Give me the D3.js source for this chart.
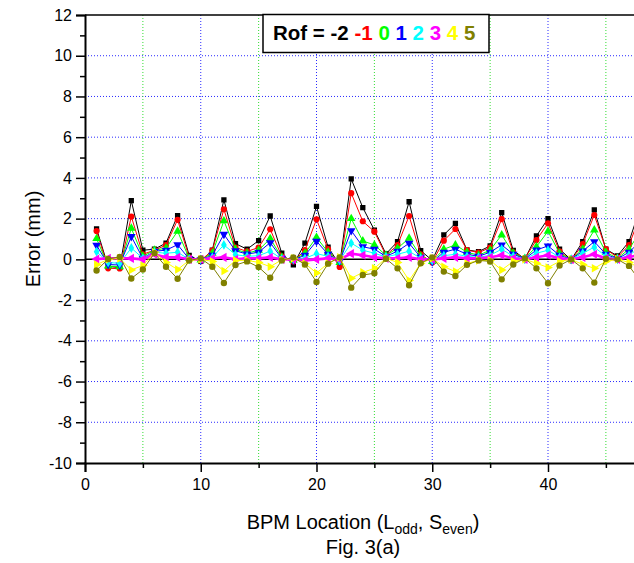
<!DOCTYPE html>
<html><head><meta charset="utf-8">
<script src="https://cdn.jsdelivr.net/npm/d3@7"></script>
<style>body{margin:0;background:#fff}svg{display:block}text{font-family:Arial,"Liberation Sans",sans-serif}</style>
</head><body>
<svg id="c" width="634" height="563"></svg>
<script>
const xs = d3.range(1, 49);
const rofLabels = ["-2","-1","0","1","2","3","4","5"];
const colors = ["#000000","#ff0000","#00ff00","#0000ff","#00ffff","#ff00ff","#ffff00","#808000"];
const sRofM2 = [1.5,-0.35,-0.4,2.88,0.45,0.5,0.8,2.15,0.2,-0.1,0.45,2.92,0.77,0.5,0.92,2.13,0.3,-0.27,0.8,2.6,0.6,-0.27,3.95,2.54,1.44,0.27,0.87,2.83,0.43,-0.05,1.2,1.77,0.46,0.38,0.66,2.3,0.44,0.02,1.15,2.0,0.5,-0.02,0.87,2.43,0.5,0.17,0.87,2.6];
const sRofM1 = [1.39,-0.44,-0.45,2.1,0.25,0.45,0.7,1.94,0.1,-0.05,0.43,2.46,0.58,0.39,0.58,1.48,0.15,-0.1,0.45,1.97,0.5,-0.37,3.25,1.87,1.36,0.2,0.7,2.13,0.25,-0.15,0.92,1.49,0.46,0.33,0.58,1.98,0.35,0.05,0.95,1.77,0.4,-0.05,0.75,2.18,0.5,0.1,0.7,2.2];
const sRof0 = [1.02,-0.33,-0.36,1.53,0.15,0.45,0.55,1.38,0.05,-0.03,0.3,1.89,0.5,0.3,0.45,1.02,0.1,-0.05,0.3,1.08,0.35,-0.15,2.0,0.9,0.71,0.2,0.54,1.04,0.15,-0.1,0.5,0.71,0.35,0.2,0.45,1.2,0.3,0.05,0.62,1.38,0.3,0.0,0.5,1.44,0.35,0.05,0.5,1.4];
const sRof1 = [0.69,-0.25,-0.28,1.12,0.05,0.4,0.45,0.72,0.02,-0.02,0.2,1.23,0.42,0.26,0.35,0.82,0.05,-0.03,0.2,0.89,0.25,-0.1,1.41,0.62,0.5,0.15,0.4,0.79,0.1,-0.12,0.35,0.5,0.25,0.15,0.35,0.71,0.25,0.03,0.46,0.66,0.2,0.0,0.41,0.87,0.25,0.03,0.35,0.9];
const sRof2 = [0.38,-0.15,-0.2,0.56,0.05,0.35,0.3,0.35,0.0,0.0,0.1,0.71,0.23,0.15,0.18,0.4,0.02,0.0,0.05,0.28,0.15,-0.05,0.8,0.45,0.3,0.12,0.25,0.4,0.05,-0.05,0.18,0.25,0.15,0.1,0.2,0.5,0.15,0.02,0.3,0.45,0.1,0.0,0.3,0.6,0.15,0.02,0.2,0.6];
const sRof3 = [0.02,0.05,0.05,0.05,0.0,0.25,0.1,0.1,0.0,0.0,0.05,0.1,0.0,0.05,0.05,0.1,0.0,0.0,-0.05,0.0,0.05,0.0,0.28,0.2,0.1,0.05,0.05,0.1,0.0,0.0,0.05,0.1,0.05,0.05,0.1,0.2,0.05,0.0,0.1,0.2,0.05,0.0,0.1,0.25,0.05,0.0,0.1,0.25];
const sRof4 = [-0.26,0.0,0.05,-0.52,-0.3,0.35,-0.15,-0.5,-0.05,0.0,-0.1,-0.57,-0.05,-0.05,-0.15,-0.36,-0.02,0.05,-0.2,-0.67,-0.2,0.1,-0.93,-0.64,-0.44,0.05,-0.15,-1.04,-0.2,0.05,-0.36,-0.6,-0.2,-0.05,-0.05,-0.52,-0.1,0.0,-0.19,-0.4,-0.1,0.0,-0.25,-0.44,-0.1,0.0,-0.15,-0.45];
const sRof5 = [-0.55,0.02,0.12,-0.94,-0.5,0.3,-0.36,-0.95,-0.05,0.05,-0.36,-1.16,-0.28,-0.1,-0.38,-0.9,-0.05,0.1,-0.25,-1.11,-0.21,0.1,-1.39,-0.77,-0.68,0.03,-0.44,-1.27,-0.19,0.1,-0.6,-0.82,-0.27,-0.05,-0.1,-0.98,-0.25,0.05,-0.44,-1.17,-0.3,0.0,-0.44,-1.14,0.03,0.0,-0.32,-1.1];
const seriesVals = [sRofM2,sRofM1,sRof0,sRof1,sRof2,sRof3,sRof4,sRof5];
const xTicks = [0,10,20,30,40];
const yTicks = [-10,-8,-6,-4,-2,0,2,4,6,8,10,12];

const svg = d3.select("#c");
const L = 85, T = 15, B = 463;
const x = d3.scaleLinear().domain([0, 50]).range([L, L + 50 * 11.575]);
const y = d3.scaleLinear().domain([-10, 12]).range([B, T]);
const R = x(50);

// grid
const g = svg.append("g");
[-8,-6,-4,-2,2,4,6,8,10].forEach(v => {
  g.append("line").attr("x1", L).attr("x2", R).attr("y1", y(v)).attr("y2", y(v))
   .attr("stroke", "#2a2aff").attr("stroke-width", 1).attr("stroke-dasharray", "1,2");
});
[5,10,15,20,25,30,35,40,45].forEach(v => {
  g.append("line").attr("x1", x(v)).attr("x2", x(v)).attr("y1", T).attr("y2", B)
   .attr("stroke", v % 10 === 0 ? "#2a2aff" : "#33dd33").attr("stroke-width", 1).attr("stroke-dasharray", "1,2");
});
// zero line
svg.append("line").attr("x1", L).attr("x2", R).attr("y1", y(0)).attr("y2", y(0))
  .attr("stroke", "#000").attr("stroke-width", 1.5);

// symbols
function marker(sel, i) {
  const sym = d3.symbol();
  let d, rot = 0;
  switch (i) {
    case 0: d = sym.type(d3.symbolSquare).size(28)(); break;
    case 1: d = sym.type(d3.symbolCircle).size(30)(); break;
    case 2: d = sym.type(d3.symbolTriangle).size(32)(); break;
    case 3: d = sym.type(d3.symbolTriangle).size(32)(); rot = 180; break;
    case 4: d = sym.type(d3.symbolDiamond).size(28)(); break;
    case 5: d = sym.type(d3.symbolTriangle).size(36)(); rot = -90; break;
    case 6: d = sym.type(d3.symbolTriangle).size(32)(); rot = 90; break;
    default: d = sym.type(d3.symbolCircle).size(32)();
  }
  sel.attr("d", d).attr("transform", p => `translate(${x(p[0])},${y(p[1])}) rotate(${rot})`);
}

svg.append("clipPath").attr("id", "pc").append("rect")
  .attr("x", L).attr("y", T).attr("width", R - L).attr("height", B - T);
const plot = svg.append("g").attr("clip-path", "url(#pc)");
const line = d3.line().x(p => x(p[0])).y(p => y(p[1]));
seriesVals.forEach((vals, i) => {
  const pts = xs.map((xv, k) => [xv, vals[k]]);
  const sg = plot.append("g");
  sg.append("path").attr("d", line(pts)).attr("fill", "none")
    .attr("stroke", colors[i]).attr("stroke-width", i === 5 ? 2.6 : 1);
  sg.selectAll("path.m").data(pts).join("path").attr("class", "m")
    .attr("fill", colors[i]).call(marker, i);
});

// frame
svg.append("line").attr("x1", L).attr("x2", R).attr("y1", T).attr("y2", T).attr("stroke", "#000").attr("stroke-width", 1.5);

// axes
const fmt = d => String(d);
const yAxis = svg.append("g").attr("transform", `translate(${L},0)`)
  .call(d3.axisLeft(y).tickValues(yTicks).tickSize(9).tickPadding(4).tickFormat(fmt));
yAxis.select(".domain").attr("stroke-width", 2);
yAxis.selectAll(".tick line").attr("stroke-width", 1.5);
yAxis.selectAll("text").attr("font-size", 16).attr("fill", "#000");
svg.append("g").attr("transform", `translate(${L},0)`)
  .call(d3.axisLeft(y).tickValues(d3.range(-9, 12, 2)).tickSize(5).tickFormat(""))
  .call(s => s.select(".domain").remove())
  .selectAll("line").attr("stroke-width", 1.5);

const xAxis = svg.append("g").attr("transform", `translate(0,${B})`)
  .call(d3.axisBottom(x).tickValues(xTicks).tickSize(9).tickPadding(7).tickFormat(fmt));
xAxis.select(".domain").attr("stroke-width", 2);
xAxis.selectAll(".tick line").attr("stroke-width", 1.5);
xAxis.selectAll("text").attr("font-size", 16).attr("fill", "#000");
svg.append("g").attr("transform", `translate(0,${B})`)
  .call(d3.axisBottom(x).tickValues([5,15,25,35,45]).tickSize(5).tickFormat(""))
  .call(s => s.select(".domain").remove())
  .selectAll("line").attr("stroke-width", 1.5);

// titles
svg.append("text").attr("transform", `translate(40,${(T + B) / 2}) rotate(-90)`)
  .attr("text-anchor", "middle").attr("font-size", 20).text("Error (mm)");
const xt = svg.append("text").attr("x", 363).attr("y", 529).attr("text-anchor", "middle").attr("font-size", 20);
xt.append("tspan").text("BPM Location (L");
xt.append("tspan").attr("font-size", 14).attr("dy", 5).text("odd");
xt.append("tspan").attr("dy", -5).text(", S");
xt.append("tspan").attr("font-size", 14).attr("dy", 5).text("even");
xt.append("tspan").attr("dy", -5).text(")");
svg.append("text").attr("x", 363).attr("y", 554).attr("text-anchor", "middle").attr("font-size", 20).text("Fig. 3(a)");

// legend
svg.append("rect").attr("x", 263).attr("y", 14.5).attr("width", 226).attr("height", 38)
  .attr("fill", "#fff").attr("stroke", "#000").attr("stroke-width", 1.5);
const lt = svg.append("text").attr("x", 273).attr("y", 40).attr("font-size", 20.5).attr("font-weight", "bold");
lt.append("tspan").attr("fill", colors[0]).text("Rof = " + rofLabels[0]);
rofLabels.slice(1).forEach((lab, k) => {
  lt.append("tspan").attr("fill", colors[k + 1]).text(" " + lab);
});
</script>
</body></html>
